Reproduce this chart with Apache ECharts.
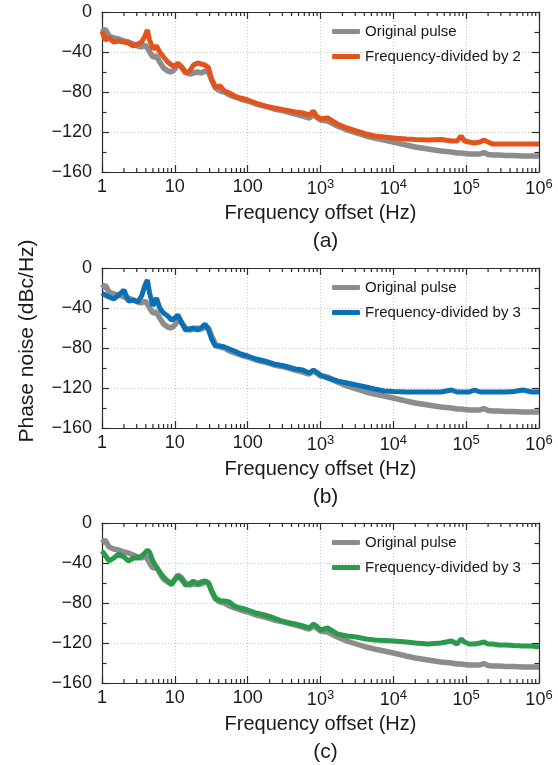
<!DOCTYPE html>
<html>
<head>
<meta charset="utf-8">
<style>
html,body{margin:0;padding:0;background:#fff;}
#chart{width:558px;height:765px;}
</style>
<script src="https://cdn.jsdelivr.net/npm/echarts@6/dist/echarts.min.js"></script>
</head>
<body>
<div id="chart"></div>
<script>
// Frequency offset grid (Hz)
const freq = [1,1.1,1.25,1.45,1.7,2,2.3,2.7,3.1,3.5,3.9,4.2,4.5,5,5.6,6.2,7,8,9,10,11,12.5,14,16,18,20.5,23,26,29,32,36,42,48,56,66,80,100,130,170,230,320,450,570,700,800,880,1000,1250,1700,2300,3100,4200,5500,7500,10000,15000,20000,30000,45000,63000,75000,85000,95000,110000,130000,155000,175000,200000,230000,280000,350000,450000,600000,800000,1000000];

// Original pulse (dBc/Hz)
const origPulse = [-20,-17,-24,-26,-27,-29,-30,-32,-34,-35,-33,-36,-40,-45,-44,-50,-56,-59,-60,-57,-52,-55,-60,-62,-61,-60,-61,-59,-60,-68,-76,-79,-80,-83,-85,-87,-89,-92,-94,-97,-99,-102,-104,-106,-103,-105,-108,-109,-114,-118,-121,-124,-126,-128,-130,-133,-135,-137,-139,-140,-141,-141,-141.5,-142,-142,-142,-140.5,-142.5,-143,-143,-143.5,-143.5,-144,-144,-144];

// (a) Frequency-divided by 2
const divBy2 = [-19,-28,-26,-30,-29,-30,-31,-34,-32,-30,-24,-18,-28,-37,-34,-40,-45,-50,-53,-54,-51,-56,-61,-59,-53,-51,-52,-53,-56,-67,-75,-74,-79,-81,-84,-86,-88,-91,-94,-96,-98,-100,-101,-103,-99,-104,-107,-106,-112,-116,-119,-122,-124,-125,-126,-127,-127.5,-128,-127.5,-129,-129,-124,-129,-130,-131,-130,-128,-130,-132,-132,-132,-132,-132,-132,-132];

// (b) Frequency-divided by 3
const divBy3b = [-25,-27,-29,-31,-27,-22,-33,-32,-34,-28,-17,-12,-25,-38,-30,-40,-45,-48,-52,-50,-47,-55,-62,-61,-60,-62,-60,-56,-62,-71,-78,-78,-79,-81,-83,-86,-88,-91,-93,-96,-98,-101,-102,-105,-102,-104,-107,-110,-113,-115,-117,-119,-121,-123,-123.5,-124,-124,-124,-124,-122,-124,-124,-124,-124,-122,-124,-124,-124,-124,-124,-124,-123.5,-122,-124,-124];

// (c) Frequency-divided by 3
const divBy3c = [-28,-32,-38,-35,-31,-34,-38,-35,-35,-33,-30,-27,-29,-38,-44,-49,-54,-58,-62,-56,-53,-57,-62,-61,-58,-62,-59,-58,-60,-68,-75,-78,-78,-79,-83,-85,-87,-90,-92,-95,-99,-101,-103,-105,-101,-103,-107,-105,-111,-113,-114,-116,-117,-117.5,-118,-119,-120,-121,-120,-118,-121,-116,-119,-121,-121,-120,-119,-121,-121,-122,-122,-122.5,-123,-123,-124];

// Minor tick positions of the log frequency axis
const minorTickFreqs = [
  2,3,4,5,6,7,8,9,
  20,30,40,50,60,70,80,90,
  200,300,400,500,600,700,800,900,
  2e3,3e3,4e3,5e3,6e3,7e3,8e3,9e3,
  2e4,3e4,4e4,5e4,6e4,7e4,8e4,9e4,
  2e5,3e5,4e5,5e5,6e5,7e5,8e5,9e5
];

const panelLabels = ['(a)','(b)','(c)'];
const divNames = ['Frequency-divided by 2','Frequency-divided by 3','Frequency-divided by 3'];
const divData = [divBy2, divBy3b, divBy3c];
const divColors = ['#e2531e','#0b71b4','#2b9a4c'];
const grayColor = '#8c8c8c';

const FONT = '"Liberation Sans", Arial, sans-serif';
const tops = [12, 268, 523];
const L = 102, W = 437, H = 160;
const AX = '#2a2a2a';

function pairs(arr){ return freq.map((f,i)=>[f, arr[i]]); }

function xLabel(v){
  const e = Math.round(Math.log10(v));
  if (e <= 2) return String(Math.round(v));
  return '10{s|' + e + '}';
}

const grid = [], xAxis = [], yAxis = [], series = [], legend = [], graphic = [];
tops.forEach((t, k) => {
  grid.push({left: L, top: t, width: W, height: H, containLabel: false});
  const axisLine = {show: true, onZero: false, lineStyle: {color: AX, width: 1.2}};
  const tick = {show: true, inside: true, length: 7, lineStyle: {color: AX, width: 1.2}};
  xAxis.push({
    type: 'log', logBase: 10, min: 1, max: 1e6, gridIndex: k, position: 'bottom',
    splitNumber: 6,
    axisLine: axisLine, axisTick: tick,
    minorTick: {show: false},
    splitLine: {show: true, lineStyle: {color: '#c8c8c8', type: [1,2], width: 1}},
    axisLabel: {
      formatter: xLabel, color: '#1a1a1a', fontSize: 18, fontFamily: FONT, margin: 6,
      rich: {s: {fontSize: 13, fontFamily: FONT, color: '#1a1a1a', verticalAlign: 'bottom', padding: [0,0,9,0]}}
    },
    name: 'Frequency offset (Hz)', nameLocation: 'middle', nameGap: 31,
    nameTextStyle: {fontSize: 20, fontFamily: FONT, color: '#1a1a1a'}
  });
  xAxis.push({
    type: 'log', logBase: 10, min: 1, max: 1e6, gridIndex: k, position: 'top',
    splitNumber: 6,
    axisLine: axisLine, axisTick: tick,
    minorTick: {show: false},
    splitLine: {show: false}, axisLabel: {show: false}
  });
  yAxis.push({
    type: 'value', min: -160, max: 0, interval: 40, gridIndex: k, position: 'left',
    axisLine: axisLine, axisTick: tick,
    minorTick: {show: true, splitNumber: 2, length: 4.5, lineStyle: {color: AX, width: 1.2}},
    splitLine: {show: true, lineStyle: {color: '#c8c8c8', type: [1,2], width: 1}},
    axisLabel: {formatter: v => String(v).replace('-', '\u2212'), color: '#1a1a1a', fontSize: 18, fontFamily: FONT, margin: 10}
  });
  yAxis.push({
    type: 'value', min: -160, max: 0, interval: 40, gridIndex: k, position: 'right',
    axisLine: axisLine, axisTick: tick,
    minorTick: {show: true, splitNumber: 2, length: 4.5, lineStyle: {color: AX, width: 1.2}},
    splitLine: {show: false}, axisLabel: {show: false}
  });
  series.push({
    name: 'Original pulse', type: 'line', xAxisIndex: 2*k, yAxisIndex: 2*k,
    data: pairs(origPulse), showSymbol: false, symbol: 'none',
    lineStyle: {color: grayColor, width: 5.5}, itemStyle: {color: grayColor}, z: 2, animation: false
  });
  series.push({
    name: divNames[k], type: 'line', xAxisIndex: 2*k, yAxisIndex: 2*k,
    data: pairs(divData[k]), showSymbol: false, symbol: 'none',
    lineStyle: {color: divColors[k], width: 5}, itemStyle: {color: divColors[k]}, z: 3, animation: false
  });
  series.push({
    name: 'minorTicks' + k, type: 'custom', xAxisIndex: 2*k, yAxisIndex: 2*k,
    data: minorTickFreqs.map(f => [f, 0]), encode: {x: 0, y: 1},
    silent: true, clip: false, z: 5, animation: false,
    renderItem: function(params, api){
      const v = api.value(0);
      const b = api.coord([v, -160]);
      const tp = api.coord([v, 0]);
      return {type: 'group', children: [
        {type: 'line', shape: {x1: b[0], y1: b[1], x2: b[0], y2: b[1] - 4}, style: {stroke: AX, lineWidth: 1.2}},
        {type: 'line', shape: {x1: tp[0], y1: tp[1], x2: tp[0], y2: tp[1] + 4}, style: {stroke: AX, lineWidth: 1.2}}
      ]};
    }
  });
  legend.push({
    left: 327, top: t + 7, orient: 'vertical', itemWidth: 28, itemHeight: 5, itemGap: 10,
    icon: 'roundRect', selectedMode: false,
    textStyle: {fontSize: 15, fontFamily: FONT, color: '#1a1a1a'},
    data: [
      {name: 'Original pulse', itemStyle: {color: grayColor}},
      {name: divNames[k], itemStyle: {color: divColors[k]}}
    ]
  });
  graphic.push({
    type: 'text', x: L + W/2 + 5, y: t + H + 69,
    style: {text: panelLabels[k], fontSize: 21, fontFamily: FONT, fill: '#1a1a1a', textAlign: 'center', textVerticalAlign: 'middle'}
  });
});
graphic.push({
  type: 'text', x: 27, y: 341, rotation: Math.PI/2,
  style: {text: 'Phase noise (dBc/Hz)', fontSize: 21, fontFamily: FONT, fill: '#1a1a1a', textAlign: 'center', textVerticalAlign: 'middle'}
});

const chart = echarts.init(document.getElementById('chart'), null, {renderer: 'canvas'});
chart.setOption({
  backgroundColor: '#fff', animation: false,
  grid, xAxis, yAxis, series, legend, graphic
});
</script>
</body>
</html>
